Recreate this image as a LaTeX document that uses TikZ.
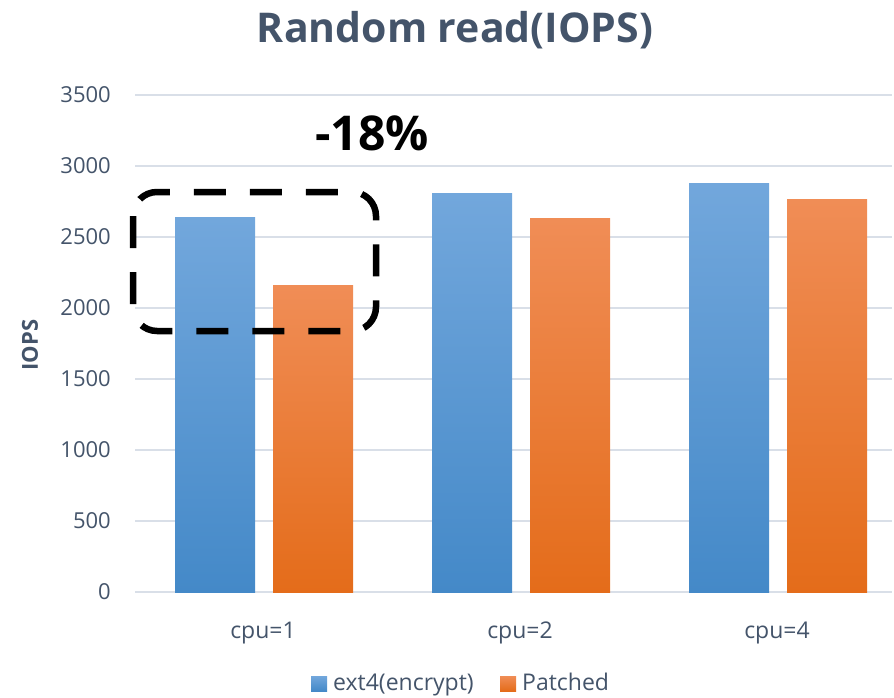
\documentclass[tikz,border=0pt]{standalone}
\usepackage{fontspec}
\setmainfont{Open Sans}
\definecolor{labelgray}{RGB}{68,84,106}
\definecolor{gridgray}{RGB}{217,223,232}
\definecolor{blueTop}{RGB}{114,167,220}
\definecolor{blueMid}{RGB}{86,155,217}
\definecolor{blueBot}{RGB}{68,137,200}
\definecolor{orangeTop}{RGB}{240,141,86}
\definecolor{orangeMid}{RGB}{246,128,46}
\definecolor{orangeBot}{RGB}{228,108,26}
\tikzset{
  ticklabel/.style={anchor=east, text=labelgray, font=\fontsize{22}{26}\selectfont, inner sep=0pt},
  catlabel/.style={anchor=base, text=labelgray, font=\fontsize{23}{27}\selectfont, inner sep=0pt},
  bluebar/.style={top color=blueTop, middle color=blueMid, bottom color=blueBot, draw=none},
  orangebar/.style={top color=orangeTop, middle color=orangeMid, bottom color=orangeBot, draw=none},
  legkey/.style={minimum width=16pt, minimum height=15pt, inner sep=0pt},
}

\begin{document}
\begin{tikzpicture}[x=1pt, y=-1pt]
    \useasboundingbox (0,0) rectangle (894,698);
    % grid and tick labels
    \foreach \v in {0,500,...,3500} {
        \draw[gridgray, line width=1.5pt] (135,{592-\v*0.142}) -- (892,{592-\v*0.142});
        \node[ticklabel] (t\v) at (111,{592-\v*0.142}) {\v};
    }
    % bars
    \foreach \c/\b/\o in {263/2634/2155, 520/2803/2627, 777/2880/2761} {
        \path[bluebar] ({\c-88},592) rectangle ({\c-8},{592-\b*0.142});
        \path[orangebar] ({\c+10},592) rectangle ({\c+90},{592-\o*0.142});
    }
    \node[catlabel] (c1) at (263,638) {cpu=1};
    \node[catlabel] (c2) at (520,638) {cpu=2};
    \node[catlabel] (c4) at (777,638) {cpu=4};

    \node[anchor=base, text=labelgray, font=\fontsize{41}{46}\selectfont\bfseries, inner sep=0pt] (title) at (455,43) {Random read(IOPS)};
    \node[rotate=90, text=labelgray, font=\fontsize{22}{26}\selectfont\bfseries, inner sep=0pt] (ylab) at (30,345) {IOPS};

    % legend
    \node[legkey, bluebar] (k1) at (319,683.5) {};
    \node[anchor=base west, text=labelgray, font=\fontsize{23}{27}\selectfont, inner sep=0pt] (l1) at (333,690) {ext4(encrypt)};
    \node[legkey, orangebar] (k2) at (508,683.5) {};
    \node[anchor=base west, text=labelgray, font=\fontsize{23}{27}\selectfont, inner sep=0pt] (l2) at (522,690) {Patched};

    % highlight
    \draw[line width=6.5pt, dash pattern=on 32pt off 24pt, rounded corners=24pt] (133,192) rectangle (376,331);
    \node[anchor=base, font=\fontsize{48}{54}\selectfont\bfseries, inner sep=0pt] (drop) at (372,150) {-18\%};
\end{tikzpicture}
\end{document}
